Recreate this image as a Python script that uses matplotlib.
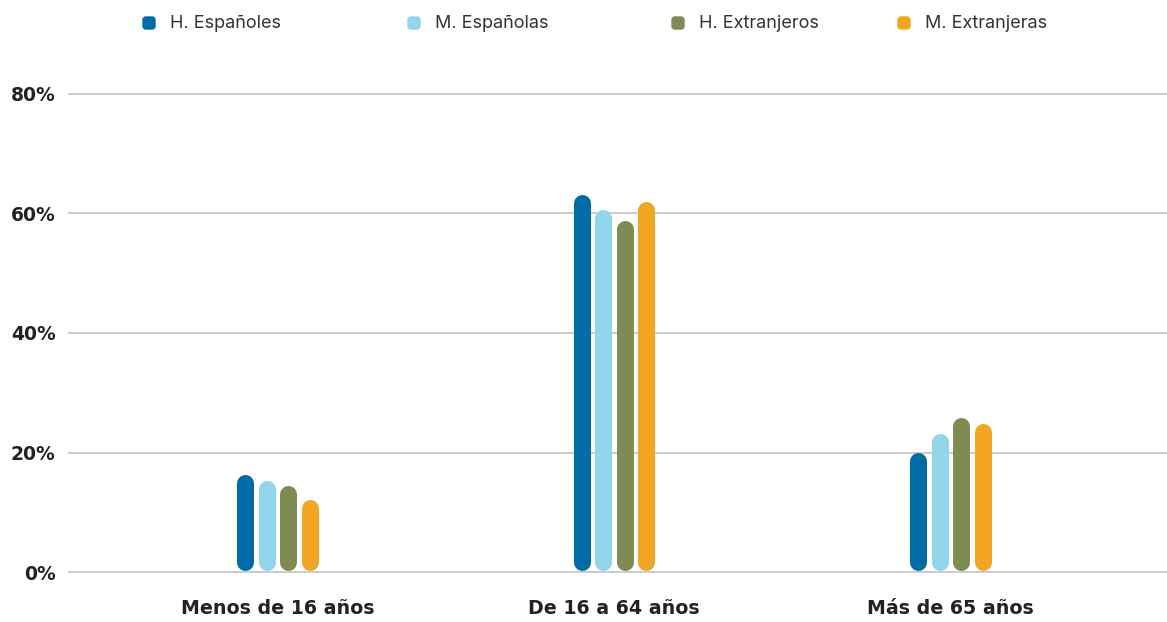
import numpy as np
import matplotlib.pyplot as plt
from matplotlib.patches import FancyBboxPatch

categorias = ['Menos de 16 años', 'De 16 a 64 años', 'Más de 65 años']
series = ['H. Españoles', 'M. Españolas', 'H. Extranjeros', 'M. Extranjeras']
colores = ['#006ba6', '#93d5ea', '#7e8b52', '#f2a623']

h_espanoles = [16.3, 63.1, 20.0]
m_espanolas = [15.3, 60.7, 23.1]
h_extranjeros = [14.5, 58.9, 25.8]
m_extranjeras = [12.1, 62.0, 24.8]
valores = [h_espanoles, m_espanolas, h_extranjeros, m_extranjeras]

yticks = [0, 20, 40, 60, 80]
ytick_labels = ['0%', '20%', '40%', '60%', '80%']

W, H, DPI = 1167, 622, 100
fig = plt.figure(figsize=(W / DPI, H / DPI), dpi=DPI)

# axes placed in pixels: y=0 at 572px, y=80 at 94px
px_per_unit = (572 - 94) / 80
y_lo, y_hi = -1.0, 82.0
ax_bottom = 572 + (0 - y_lo) * px_per_unit
ax_top = 94 - (y_hi - 80) * px_per_unit
ax = fig.add_axes([68 / W, (H - ax_bottom) / H, (W - 68) / W, (ax_bottom - ax_top) / H])

# category spacing in pixels
cat_px = 336.5
x0_px = 277.5
ax.set_xlim((68 - x0_px) / cat_px, (W - x0_px) / cat_px)
ax.set_ylim(y_lo, y_hi)

bar_px = 17
step = 21.5 / cat_px
lw_pt = bar_px * 72 / DPI
r = (bar_px / 2) / px_per_unit
x = np.arange(len(categorias))
for i, (vals, col) in enumerate(zip(valores, colores)):
    xs = x + (i - 1.5) * step
    for xi, v in zip(xs, vals):
        ax.plot([xi, xi], [0.2 + r, v - r], color=col, lw=lw_pt,
                solid_capstyle='round', zorder=3)

ax.set_yticks(yticks)
ax.set_yticklabels(ytick_labels)
ax.set_xticks(x)
ax.set_xticklabels(categorias)
ax.grid(axis='y', color='#bdbdbd', lw=1.1, zorder=0)
ax.tick_params(length=0)
ax.tick_params(axis='y', pad=9)
ax.tick_params(axis='x', pad=15)
for lab in ax.get_yticklabels():
    lab.set_fontsize(13.5)
for lab in ax.get_xticklabels():
    lab.set_fontsize(13.7)
for lab in ax.get_yticklabels() + ax.get_xticklabels():
    lab.set_fontfamily('DejaVu Sans')
    lab.set_fontweight('bold')
    lab.set_color('#222222')
for s in ax.spines.values():
    s.set_visible(False)

# legend row along the top
leg_x = [143, 408, 672, 898]
for lx, name, col in zip(leg_x, series, colores):
    fig.patches.append(FancyBboxPatch(((lx) / W, (H - 29) / H), 12 / W, 12 / H,
                                      boxstyle='round,pad=0,rounding_size=0.0025',
                                      transform=fig.transFigure, color=col,
                                      mutation_aspect=W / H))
    fig.text((lx + 27) / W, (H - 23) / H, name, fontsize=13, family='Inter',
             color='#333333', va='center', ha='left')

fig.savefig('out.png', dpi=DPI)
